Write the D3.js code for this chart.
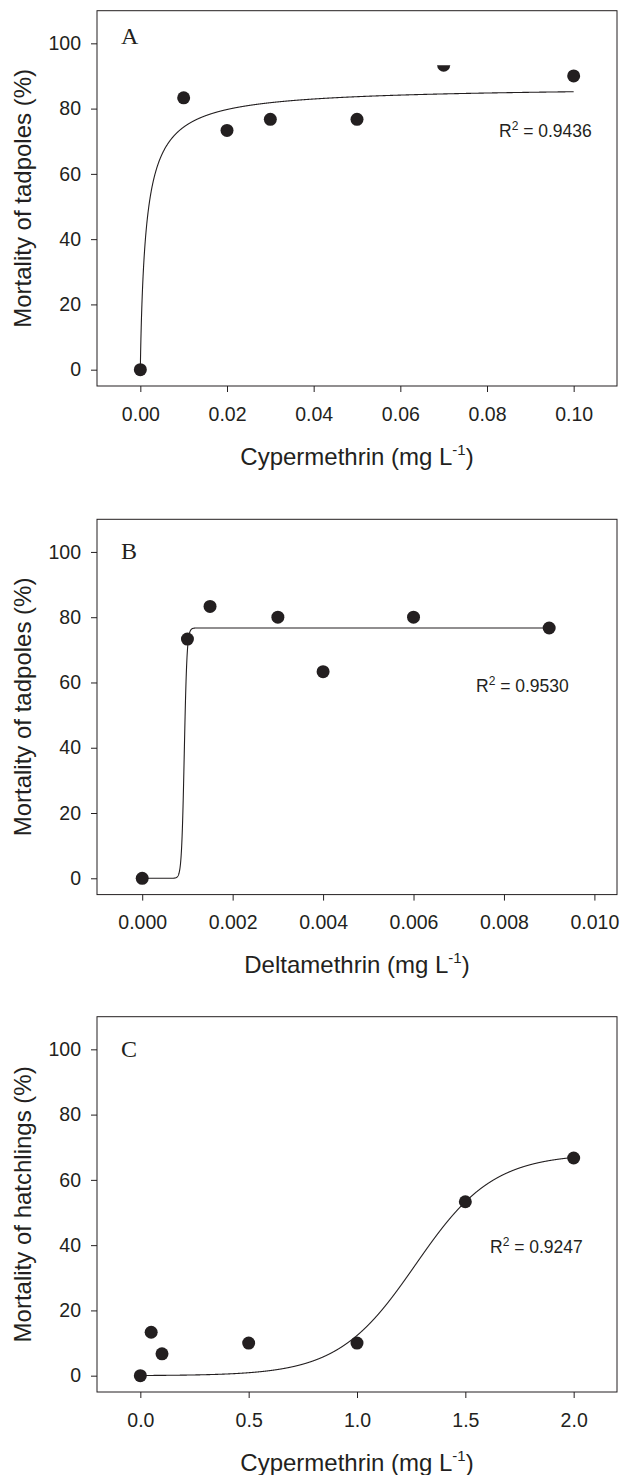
<!DOCTYPE html>
<html>
<head>
<meta charset="utf-8">
<script src="https://cdn.jsdelivr.net/npm/d3@7"></script>
<style>
  body { margin: 0; background: #fff; }
  svg { display: block; }
</style>
</head>
<body>
<div class="visContainer"></div>
<script>
// measured concentrations and mortality (%)
const concA = [0, 0.01, 0.02, 0.03, 0.05, 0.07, 0.10];
const mortA = [0, 83.3, 73.3, 76.7, 76.7, 93.3, 90.0];
const concB = [0, 0.001, 0.0015, 0.003, 0.004, 0.006, 0.009];
const mortB = [0, 73.3, 83.3, 80.0, 63.3, 80.0, 76.7];
const concC = [0, 0.05, 0.1, 0.5, 1.0, 1.5, 2.0];
const mortC = [0, 13.3, 6.7, 10.0, 10.0, 53.3, 66.7];

const xTicksA = [0, 0.02, 0.04, 0.06, 0.08, 0.10];
const xTicksB = [0, 0.002, 0.004, 0.006, 0.008, 0.010];
const xTicksC = [0, 0.5, 1.0, 1.5, 2.0];
const yTicks = [0, 20, 40, 60, 80, 100];

const r2Labels = ['0.9436', '0.9530', '0.9247'];

// fitted curve parameters
const fitA = { a: 87, b: 0.9, c: 0.0014 };        // hill
const fitB = { a: 76.7, x0: 0.00093, b: 0.00003 }; // sigmoid
const fitC = { a: 68, x0: 1.27, b: 0.179 };        // sigmoid

const w = 620;
const h = 1475;
const left = 97;
const plotW = 520;
const plotH = 375.3;
const ink = '#231f20';
const sans = '"Liberation Sans", Arial, Helvetica, sans-serif';

const hill = (p) => (x) => x <= 0 ? 0 : p.a * Math.pow(x, p.b) / (Math.pow(p.c, p.b) + Math.pow(x, p.b));
const sigmoid = (p) => (x) => p.a / (1 + Math.exp(-(x - p.x0) / p.b));

const panels = [
	{
		top: 10.7, letter: 'A', letterY: 33.6, conc: concA, mort: mortA,
		xDomain: [-0.01, 0.11], xTicks: xTicksA, fmt: d3.format('.2f'),
		fit: hill(fitA), fitRange: [0, 0.10],
		xTitle: 'Cypermethrin', yTitle: 'Mortality of tadpoles (%)',
		r2: r2Labels[0], r2x: 402, r2y: 126.3, halfPoint: 5
	},
	{
		top: 519.3, letter: 'B', letterY: 39.7, conc: concB, mort: mortB,
		xDomain: [-0.001, 0.0105], xTicks: xTicksB, fmt: d3.format('.3f'),
		fit: sigmoid(fitB), fitRange: [0, 0.009],
		xTitle: 'Deltamethrin', yTitle: 'Mortality of tadpoles (%)',
		r2: r2Labels[1], r2x: 379, r2y: 173, halfPoint: -1
	},
	{
		top: 1016.7, letter: 'C', letterY: 40.6, conc: concC, mort: mortC,
		xDomain: [-0.2, 2.2], xTicks: xTicksC, fmt: d3.format('.1f'),
		fit: sigmoid(fitC), fitRange: [0, 2.0],
		xTitle: 'Cypermethrin', yTitle: 'Mortality of hatchlings (%)',
		r2: r2Labels[2], r2x: 393, r2y: 236, halfPoint: -1
	}
];

const svg = d3
	.select('.visContainer')
	.append('svg')
	.attr('width', w)
	.attr('height', h);

panels.forEach((p, k) => {
	const g = svg.append('g').attr('transform', `translate(${left}, ${p.top})`);

	const xScale = d3.scaleLinear().domain(p.xDomain).range([0, plotW]);
	const yScale = d3.scaleLinear().domain([-5, 110]).range([plotH, 0]);

	// axes
	const xAxis = d3.axisBottom(xScale).tickValues(p.xTicks).tickFormat(p.fmt).tickSize(6).tickPadding(15);
	const yAxis = d3.axisLeft(yScale).tickValues(yTicks).tickFormat(d3.format('d')).tickSize(6).tickPadding(10);

	const xg = g.append('g').attr('transform', `translate(0, ${plotH})`).call(xAxis);
	const yg = g.append('g').call(yAxis);
	[xg, yg].forEach((ag) => {
		ag.select('.domain').remove();
		ag.selectAll('line').attr('stroke', ink).attr('stroke-width', 1);
		ag.selectAll('text')
			.attr('fill', ink)
			.style('font-family', sans)
			.style('font-size', '19.5px');
	});

	// frame
	g.append('rect')
		.attr('x', 0)
		.attr('y', 0)
		.attr('width', plotW)
		.attr('height', plotH)
		.attr('fill', 'none')
		.attr('stroke', ink)
		.attr('stroke-width', 1);

	// fitted curve
	const n = 3000;
	const xs = d3.range(n + 1).map((i) => p.fitRange[0] + (p.fitRange[1] - p.fitRange[0]) * i / n);
	const line = d3.line()
		.x((d) => xScale(d))
		.y((d) => yScale(p.fit(d)));
	g.append('path')
		.datum(xs)
		.attr('d', line)
		.attr('fill', 'none')
		.attr('stroke', ink)
		.attr('stroke-width', 1.1);

	// points
	const pts = p.conc.map((c, i) => ({ x: c, y: p.mort[i], i: i }));
	if (p.halfPoint >= 0) {
		const hp = pts[p.halfPoint];
		svg.append('clipPath')
			.attr('id', 'half' + k)
			.append('rect')
			.attr('x', xScale(hp.x) - 10)
			.attr('y', yScale(hp.y))
			.attr('width', 20)
			.attr('height', 20);
	}
	g.selectAll('circle.pt')
		.data(pts)
		.enter()
		.append('circle')
		.attr('class', 'pt')
		.attr('cx', (d) => xScale(d.x))
		.attr('cy', (d) => yScale(d.y))
		.attr('r', 6.5)
		.attr('fill', ink)
		.attr('clip-path', (d) => (d.i === p.halfPoint ? `url(#half${k})` : null));

	// panel letter
	g.append('text')
		.attr('x', 24)
		.attr('y', p.letterY)
		.attr('fill', ink)
		.style('font-family', '"Liberation Serif", "Times New Roman", serif')
		.style('font-size', '24px')
		.text(p.letter);

	// r squared
	const r2 = g.append('text')
		.attr('x', p.r2x)
		.attr('y', p.r2y)
		.attr('fill', ink)
		.style('font-family', sans)
		.style('font-size', '17.5px');
	r2.append('tspan').text('R');
	r2.append('tspan').attr('dy', -7).style('font-size', '12px').text('2');
	r2.append('tspan').attr('dy', 7).text(' = ' + p.r2);

	// x title
	const xt = g.append('text')
		.attr('x', plotW / 2)
		.attr('y', plotH + 78.7)
		.attr('text-anchor', 'middle')
		.attr('fill', ink)
		.style('font-family', sans)
		.style('font-size', '24px');
	xt.append('tspan').text(p.xTitle + ' (mg L');
	xt.append('tspan').attr('dy', -10).style('font-size', '15px').text('-1');
	xt.append('tspan').attr('dy', 10).text(')');

	// y title
	g.append('text')
		.attr('transform', `translate(${30.5 - left}, ${plotH / 2}) rotate(-90)`)
		.attr('text-anchor', 'middle')
		.attr('fill', ink)
		.style('font-family', sans)
		.style('font-size', '24px')
		.text(p.yTitle);
});
</script>
</body>
</html>
